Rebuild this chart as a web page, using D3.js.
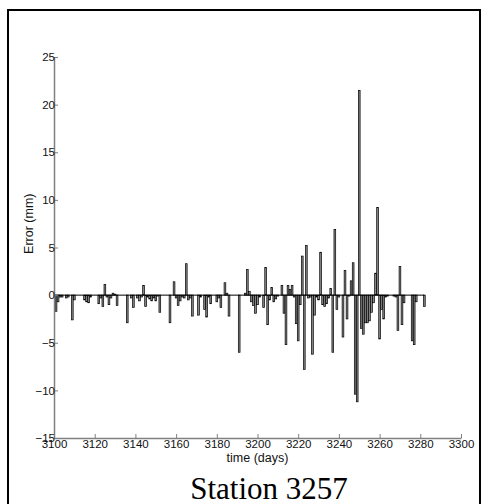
<!DOCTYPE html>
<html>
<head>
<meta charset="utf-8">
<script src="https://cdn.jsdelivr.net/npm/d3@7"></script>
<style>
  html, body { margin: 0; padding: 0; background: #fff; }
  svg { display: block; }
</style>
</head>
<body>
<svg id="chart" width="482" height="504"></svg>
<script>
// Daily residual errors for station 3257
const days = [
  3101, 3102, 3103, 3104, 3106, 3107, 3109, 3110, 3115, 3116, 3117, 3118,
  3122, 3123, 3124, 3125, 3126, 3127, 3128, 3129, 3130, 3131, 3136, 3138,
  3139, 3141, 3142, 3143, 3144, 3145, 3146, 3147, 3148, 3149, 3150, 3151,
  3152, 3157, 3159, 3160, 3161, 3162, 3163, 3164, 3165, 3166, 3167, 3168,
  3171, 3172, 3174, 3175, 3176, 3177, 3180, 3181, 3182, 3184, 3185, 3186,
  3191, 3194, 3195, 3196, 3197, 3198, 3199, 3200, 3201, 3203, 3204, 3205,
  3206, 3207, 3208, 3209, 3210, 3212, 3213, 3214, 3215, 3216, 3217, 3218,
  3219, 3220, 3221, 3222, 3223, 3224, 3225, 3226, 3227, 3228, 3229, 3230,
  3231, 3232, 3233, 3234, 3235, 3236, 3237, 3238, 3239, 3240, 3242, 3243,
  3244, 3245, 3246, 3247, 3248, 3249, 3250, 3251, 3252, 3253, 3254, 3255,
  3256, 3257, 3258, 3259, 3260, 3261, 3262, 3263, 3264, 3267, 3268, 3269,
  3270, 3271, 3272, 3276, 3277, 3278, 3282
];
const errors = [
  -1.7, -0.7, -0.2, -0.2, -0.3, -0.2, -2.6, -0.5, -0.5, -0.7, -0.8, -0.2,
  -0.9, -0.3, -1.2, 1.1, -0.2, -1.0, -0.3, 0.2, 0.1, -1.1, -2.9, -0.3,
  -1.3, -0.3, -0.6, -0.2, 1.0, -1.2, -0.2, -0.4, -0.6, -0.3, -0.6, -0.1,
  -1.8, -2.9, 1.4, -0.3, -1.1, -0.6, -0.2, -0.3, 3.3, -0.5, -0.3, -2.2,
  -2.1, -0.2, -1.5, -2.3, -0.2, -0.9, -0.7, -0.3, -1.3, 1.3, 0.2, -2.2,
  -6.0, 0.2, 2.7, 0.4, -0.7, -1.1, -1.9, -1.0, -0.2, -1.3, 2.9, -3.1,
  -0.5, 0.8, -0.7, -0.4, -0.1, 1.0, -1.9, -5.2, 1.0, 0.6, 1.0, -0.2,
  -3.0, -4.8, -1.0, 4.1, -7.8, 5.2, -0.3, -0.2, -6.2, -2.1, -0.2, -0.5,
  4.5, -1.0, -1.2, -0.9, -0.3, 0.7, -6.0, 6.9, -1.5, -0.2, -4.4, 2.6,
  -2.5, -0.1, 1.5, 3.4, -10.4, -11.2, 21.5, -3.5, -4.1, -2.9, -2.9, -2.7,
  -1.8, -0.8, 2.3, 9.2, -4.6, -1.5, -2.5, -0.2, -0.1, -0.1, -0.2, -3.7,
  3.0, -3.1, -0.8, -4.8, -5.2, -0.7, -1.2
];
const xTicks = [3100, 3120, 3140, 3160, 3180, 3200, 3220, 3240, 3260, 3280, 3300];
const yTicks = [-15, -10, -5, 0, 5, 10, 15, 20, 25];
const xDomain = [3100, 3300];
const yDomain = [-15, 25];
const baselineEnd = 3282;
const titleText = "Station 3257";

const svg = d3.select("#chart");

// Frame around the figure
svg.append("rect")
  .attr("x", 8).attr("y", 10)
  .attr("width", 472).attr("height", 510)
  .attr("fill", "none").attr("stroke", "#000").attr("stroke-width", 2);

const plotLeft = 54, plotRight = 461, plotTop = 57, plotBottom = 438;
const x = d3.scaleLinear().domain(xDomain).range([plotLeft, plotRight]);
const y = d3.scaleLinear().domain(yDomain).range([plotBottom, plotTop]);

const axisColor = "#808080";
const font = "Liberation Sans, Arial, Helvetica, sans-serif";

// Bars
const barW = (x(3101) - x(3100)) * 0.85;
svg.append("g")
  .selectAll("rect")
  .data(days.map((d, i) => ({ day: d, v: errors[i] })))
  .join("rect")
  .attr("x", d => x(d.day) - barW / 2)
  .attr("y", d => Math.min(y(d.v), y(0)))
  .attr("width", barW)
  .attr("height", d => Math.abs(y(d.v) - y(0)))
  .attr("fill", "#888")
  .attr("stroke", "#000")
  .attr("stroke-width", 0.7);

// Zero baseline
svg.append("line")
  .attr("x1", x(xDomain[0])).attr("x2", x(baselineEnd))
  .attr("y1", y(0)).attr("y2", y(0))
  .attr("stroke", "#000").attr("stroke-width", 1);

// X axis (ticks pointing inward)
const xAxis = svg.append("g")
  .attr("transform", `translate(0,${plotBottom})`)
  .call(d3.axisBottom(x).tickValues(xTicks).tickSizeInner(-4).tickSizeOuter(0).tickPadding(3).tickFormat(d3.format("d")));
xAxis.select(".domain").attr("stroke", axisColor).attr("stroke-width", 1.5);
xAxis.selectAll(".tick line").attr("stroke", axisColor);
xAxis.selectAll(".tick text")
  .attr("y", 2)
  .attr("fill", "#111")
  .style("font-family", font).style("font-size", "11.5px");

// Y axis (ticks pointing inward)
const yAxis = svg.append("g")
  .attr("transform", `translate(${plotLeft},0)`)
  .call(d3.axisLeft(y).tickValues(yTicks).tickSizeInner(-4).tickSizeOuter(0).tickPadding(0).tickFormat(d => d < 0 ? "\u2212" + Math.abs(d) : d));
yAxis.select(".domain").attr("stroke", axisColor).attr("stroke-width", 1.5);
yAxis.selectAll(".tick line").attr("stroke", axisColor);
yAxis.selectAll(".tick text")
  .attr("x", 1)
  .attr("fill", "#111")
  .style("font-family", font).style("font-size", "11.5px");

// Axis titles
svg.append("text")
  .attr("x", (x(3180) + x(3220)) / 2).attr("y", 462)
  .attr("text-anchor", "middle")
  .style("font-family", font).style("font-size", "12.5px").attr("fill", "#111")
  .text("time (days)");

svg.append("text")
  .attr("transform", `translate(33,${y(7.5)}) rotate(-90)`)
  .attr("text-anchor", "middle")
  .style("font-family", font).style("font-size", "12.5px").attr("fill", "#111")
  .text("Error (mm)");

// Figure title
svg.append("text")
  .attr("x", 269).attr("y", 499)
  .attr("text-anchor", "middle")
  .style("font-family", "Liberation Serif, Times New Roman, serif").style("font-size", "31px")
  .attr("fill", "#000")
  .text(titleText);
</script>
</body>
</html>
